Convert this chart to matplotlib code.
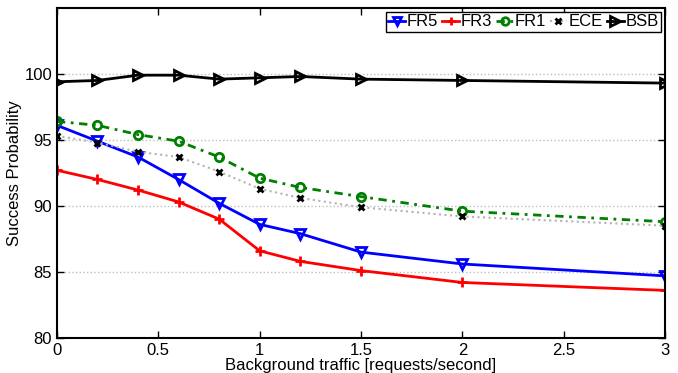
import numpy as np
import matplotlib
matplotlib.use('Agg')
import matplotlib.pyplot as plt

plt.rcParams['font.family'] = ['Liberation Sans', 'DejaVu Sans']

# data
traffic = [0, 0.2, 0.4, 0.6, 0.8, 1.0, 1.2, 1.5, 2.0, 3.0]
fr5 = [96.1, 94.9, 93.7, 92.0, 90.2, 88.6, 87.9, 86.5, 85.6, 84.7]
fr3 = [92.7, 92.0, 91.2, 90.3, 89.0, 86.6, 85.8, 85.1, 84.2, 83.6]
fr1 = [96.4, 96.1, 95.4, 94.9, 93.7, 92.1, 91.4, 90.7, 89.6, 88.8]
ece = [95.3, 94.8, 94.1, 93.7, 92.6, 91.3, 90.6, 89.9, 89.2, 88.5]
bsb = [99.4, 99.5, 99.9, 99.9, 99.6, 99.7, 99.8, 99.6, 99.5, 99.3]

xticks = [0, 0.5, 1, 1.5, 2, 2.5, 3]
yticks = [80, 85, 90, 95, 100]

fig = plt.figure(figsize=(6.78, 3.73), dpi=100)
ax = fig.add_axes([0.084, 0.094, 0.897, 0.885])

ax.plot(traffic, fr5, color='blue', lw=2, marker='v', ms=7, mfc='none', mew=2, label='FR5')
ax.plot(traffic, fr3, color='red', lw=2, marker='+', ms=7, mew=2, label='FR3')
ax.plot(traffic, fr1, color='green', lw=2, dashes=(3, 2, 1, 2), marker='o', ms=6, mfc='none', mew=2, label='FR1')
ax.plot(traffic, ece, color='0.7', lw=1.5, ls=':', marker='x', ms=4.5, mec='black', mew=2, label='ECE')
ax.plot(traffic, bsb, color='black', lw=2, marker='>', ms=7.5, mfc='none', mew=2, label='BSB')

ax.set_xlim(0, 3)
ax.set_ylim(80, 105)
ax.set_xticks(xticks)
ax.set_xticklabels(['0', '0.5', '1', '1.5', '2', '2.5', '3'])
ax.set_yticks(yticks)
ax.tick_params(direction='in', top=True, right=True, labelsize=12, length=5, width=1)
ax.yaxis.grid(True, ls=':', color='0.75', lw=1)
for s in ax.spines.values():
    s.set_linewidth(1.5)

ax.set_xlabel('Background traffic [requests/second]', fontsize=12, labelpad=0)
ax.set_ylabel('Success Probability', fontsize=12, labelpad=2)

leg = ax.legend(loc='upper right', ncol=5, fontsize=12, handlelength=1.0, handletextpad=0.1,
                columnspacing=0.25, borderpad=0.15, borderaxespad=0.25, fancybox=False,
                edgecolor='black', framealpha=1, markerscale=0.9)
leg.get_frame().set_linewidth(1)

plt.savefig('out.png', dpi=100)
